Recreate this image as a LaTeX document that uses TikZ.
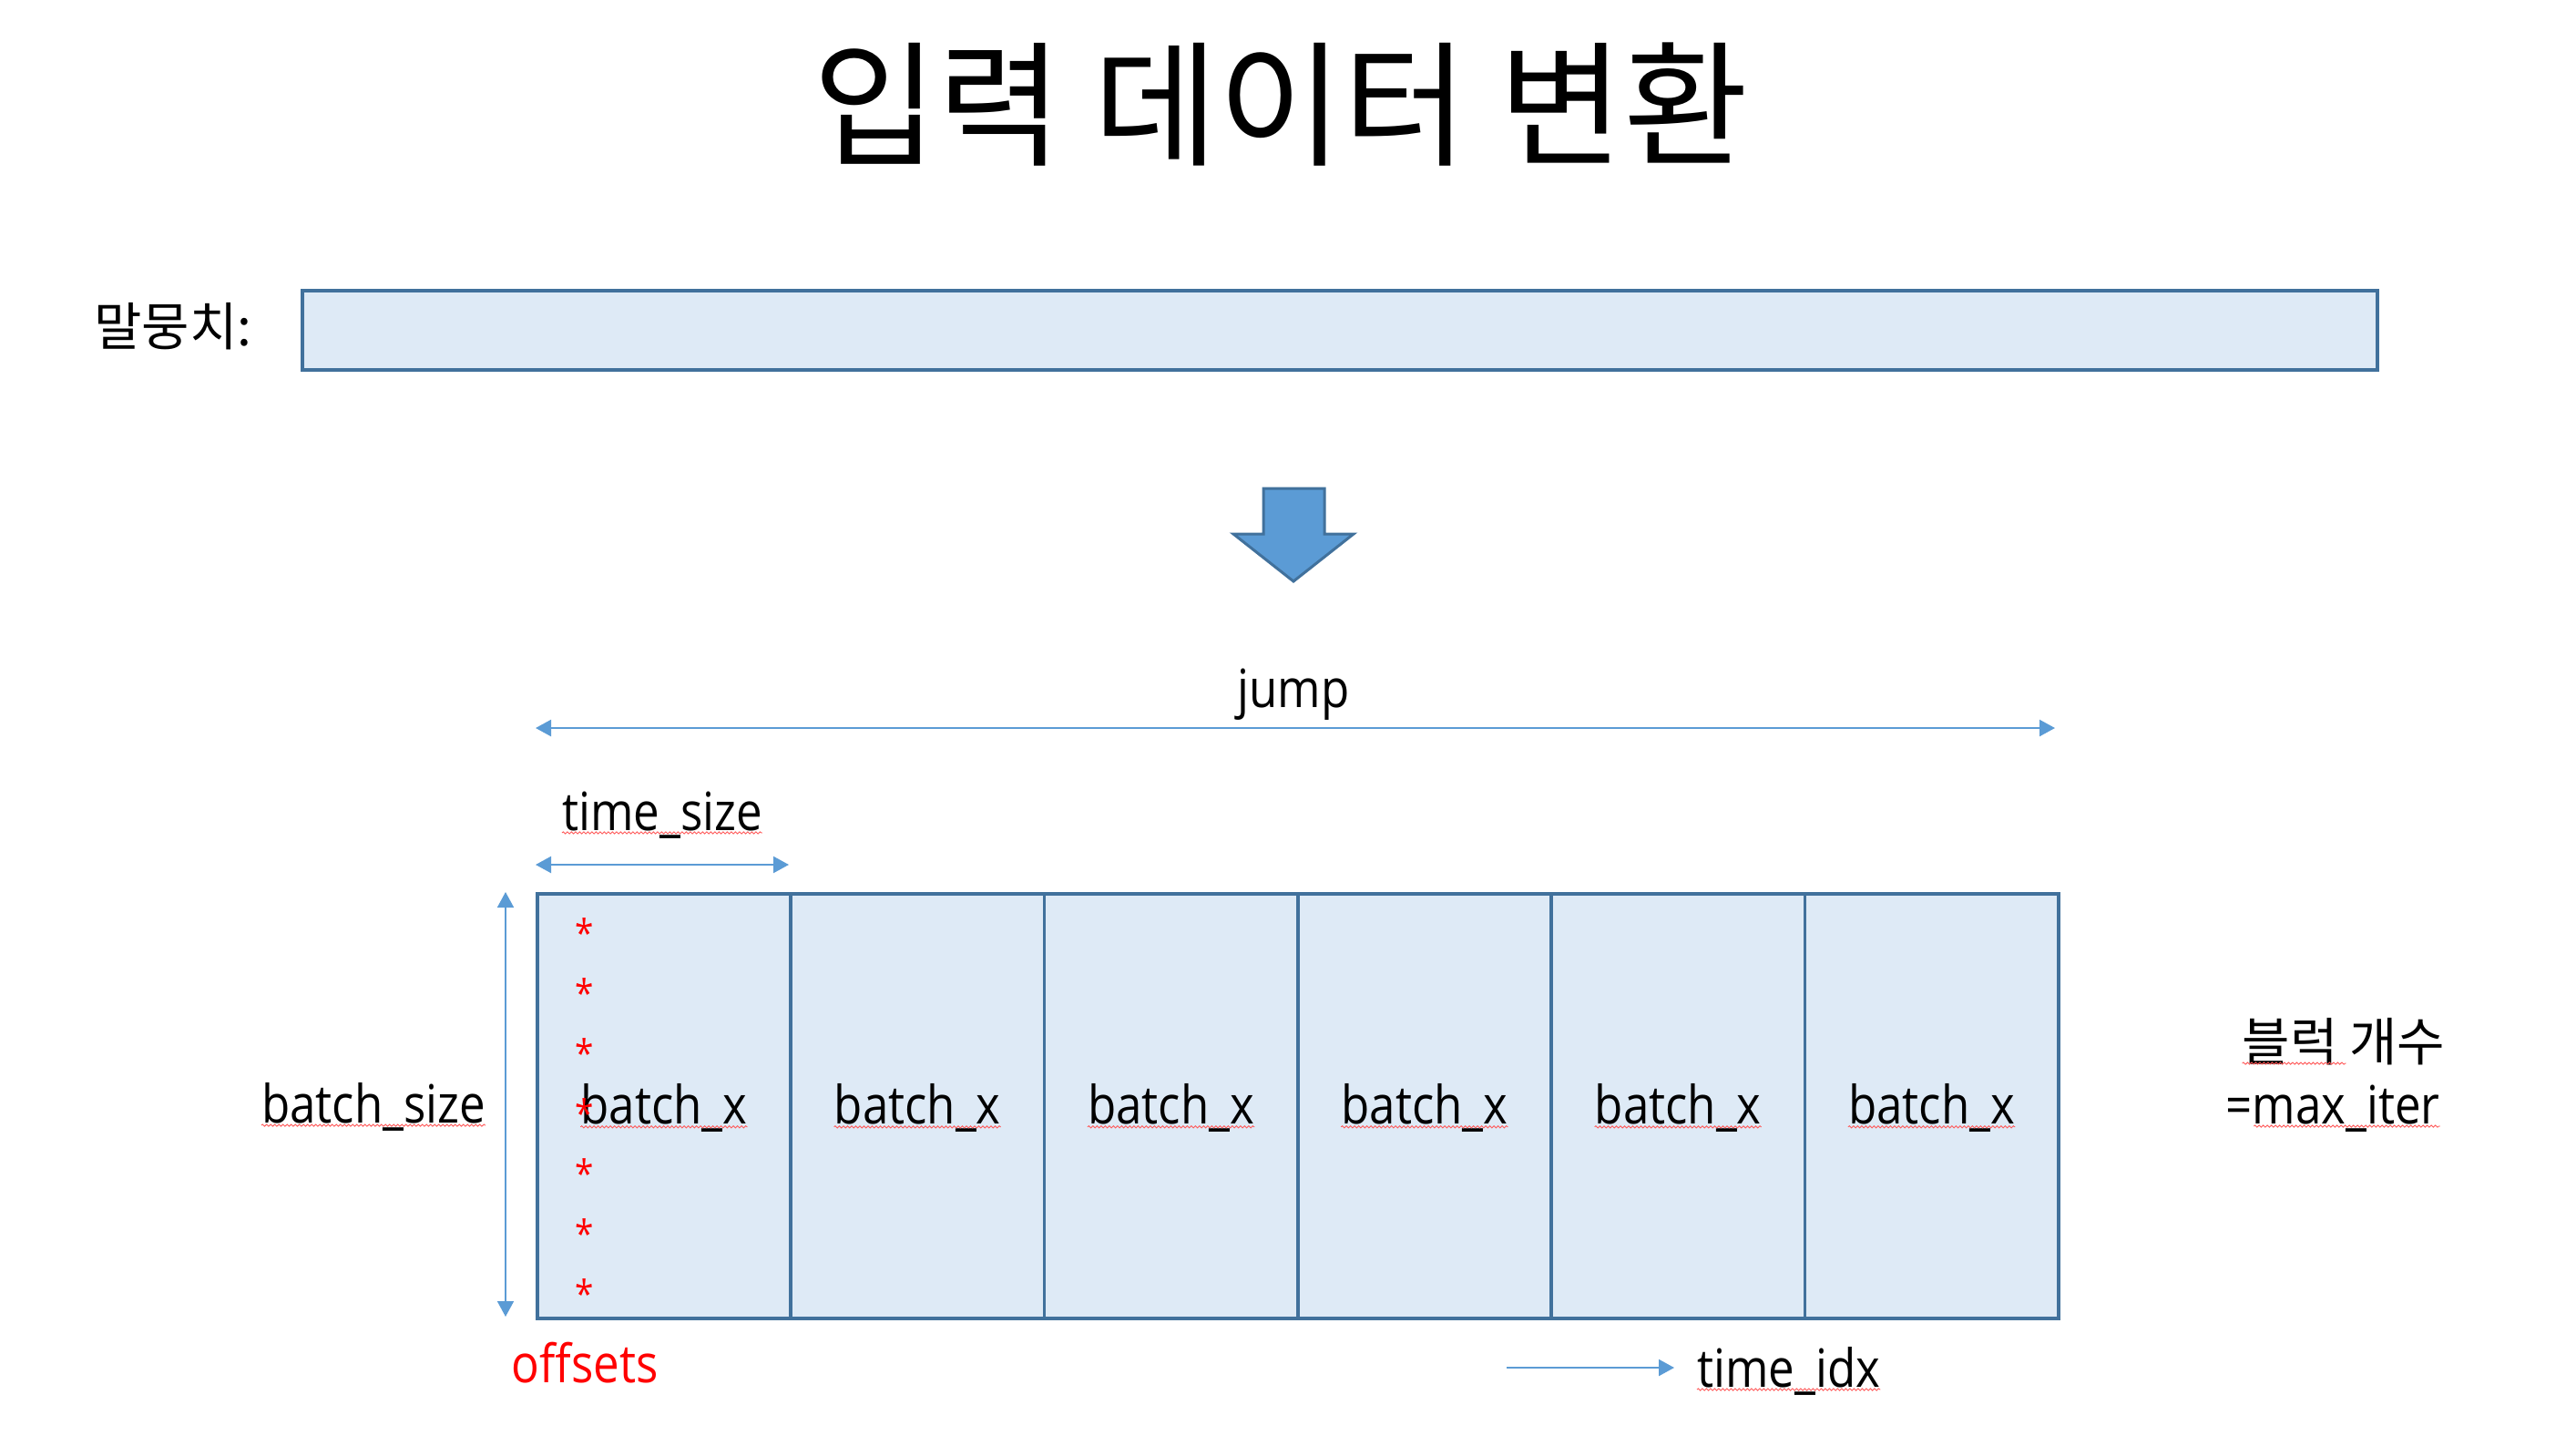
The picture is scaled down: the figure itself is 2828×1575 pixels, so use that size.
\documentclass[tikz,border=0pt]{standalone}
\usepackage{fontspec}
\setmainfont{Open Sans}[FakeStretch=0.88]
\newfontfamily\krfont{Noto Sans CJK KR}
\usetikzlibrary{arrows.meta,decorations.pathmorphing}
\definecolor{cellfill}{HTML}{DEEAF6}
\definecolor{cellline}{HTML}{41719C}
\definecolor{arrowblue}{HTML}{5B9BD5}
\definecolor{markred}{HTML}{FF0000}

\begin{document}
\begin{tikzpicture}[x=1pt,y=-1pt,
  lbl/.style={inner sep=0pt, font=\fontsize{58}{70}\selectfont},
  krlbl/.style={inner sep=0pt, font=\fontsize{57}{68}\selectfont\krfont},
  cell/.style={draw=cellline, fill=cellfill, line width=3.5pt,
    minimum width=278.33pt, minimum height=466pt, inner sep=0pt, anchor=north west},
  dimline/.style={draw=arrowblue, line width=2.2pt,
    {Triangle[length=17pt,width=18pt]}-{Triangle[length=17pt,width=18pt]}},
  flowline/.style={draw=arrowblue, line width=2.2pt, -{Triangle[length=17pt,width=18pt]}},
  offmark/.style={inner sep=0pt, text=markred, anchor=base, font=\fontsize{42}{50}\selectfont},
  wavy/.style={draw=red!65, line width=0.9pt, decorate,
    decoration={snake, amplitude=1.1pt, segment length=4.5pt}},
]
\useasboundingbox (0,0) rectangle (2828,1575);

% title
\node[inner sep=0pt, font=\fontsize{149}{170}\selectfont\krfont] (title) at (1406,115) {입력 데이터 변환};

% corpus strip
\node[krlbl] (corpuslbl) at (190,358) {말뭉치:};
\node[draw=cellline, fill=cellfill, line width=3.5pt, minimum width=2278pt,
  minimum height=87pt, inner sep=0pt, anchor=north west] (corpus) at (330,317) {};

% block arrow
\draw[fill=arrowblue, draw=cellline, line width=3pt, line join=miter]
  (1387,536) -- (1454,536) -- (1454,586) -- (1486,586) -- (1420,638)
  -- (1354,586) -- (1387,586) -- cycle;

% batch blocks
\foreach \i in {1,...,6} {
  \node[cell] (c\i) at ({588+(\i-1)*278.33},979) {};
}
\foreach \i in {1,...,6} {
  \node[lbl, anchor=base] (bx\i) at ([yshift=-20pt]c\i.center) {batch\_x};
  \draw[wavy] ([yshift=-3pt]bx\i.base west) -- ([yshift=-3pt]bx\i.base east);
}

% jump
\coordinate (jl) at (588,799);
\coordinate (jr) at (2256,799);
\draw[dimline] (jl) -- (jr);
\node[lbl, anchor=base] (jump) at (1420,776) {jump};

% time_size
\coordinate (tsl) at (588,949);
\coordinate (tsr) at (866,949);
\draw[dimline] (tsl) -- (tsr);
\node[lbl, anchor=base] (tsize) at (727,911) {time\_size};
\draw[wavy] ([yshift=-3pt]tsize.base west) -- ([yshift=-3pt]tsize.base east);

% batch_size
\coordinate (bst) at (555,979);
\coordinate (bsb) at (555,1445);
\draw[dimline, line width=1.8pt] (bst) -- (bsb);
\node[lbl, anchor=base] (bsize) at (410,1232) {batch\_size};
\draw[wavy] ([yshift=-3pt]bsize.base west) -- ([yshift=-3pt]bsize.base east);

% offsets
\foreach \k in {0,...,6} {
  \node[offmark] (ast\k) at (642,{1017+66.1*\k+22}) {*};
}
\node[lbl, anchor=base, text=markred] (offs) at (642,1517) {offsets};

% time_idx
\coordinate (til) at (1654,1501);
\coordinate (tir) at (1838,1501);
\draw[flowline] (til) -- (tir);
\node[lbl, anchor=base west] (tidx) at (1863,1522) {time\_idx};
\draw[wavy] ([yshift=-3pt]tidx.base west) -- ([yshift=-3pt]tidx.base east);

% block count
\node[krlbl, anchor=base] (blk1) at (2573,1164) {블럭 개수};
\draw[wavy] ([yshift=-3pt]blk1.base west) -- ([xshift=114pt, yshift=-3pt]blk1.base west);
\node[lbl, anchor=base] (blk2) at (2561,1233) {=max\_iter};
\draw[wavy] ([xshift=31pt, yshift=-3pt]blk2.base west) -- ([yshift=-3pt]blk2.base east);
\end{tikzpicture}
\end{document}
